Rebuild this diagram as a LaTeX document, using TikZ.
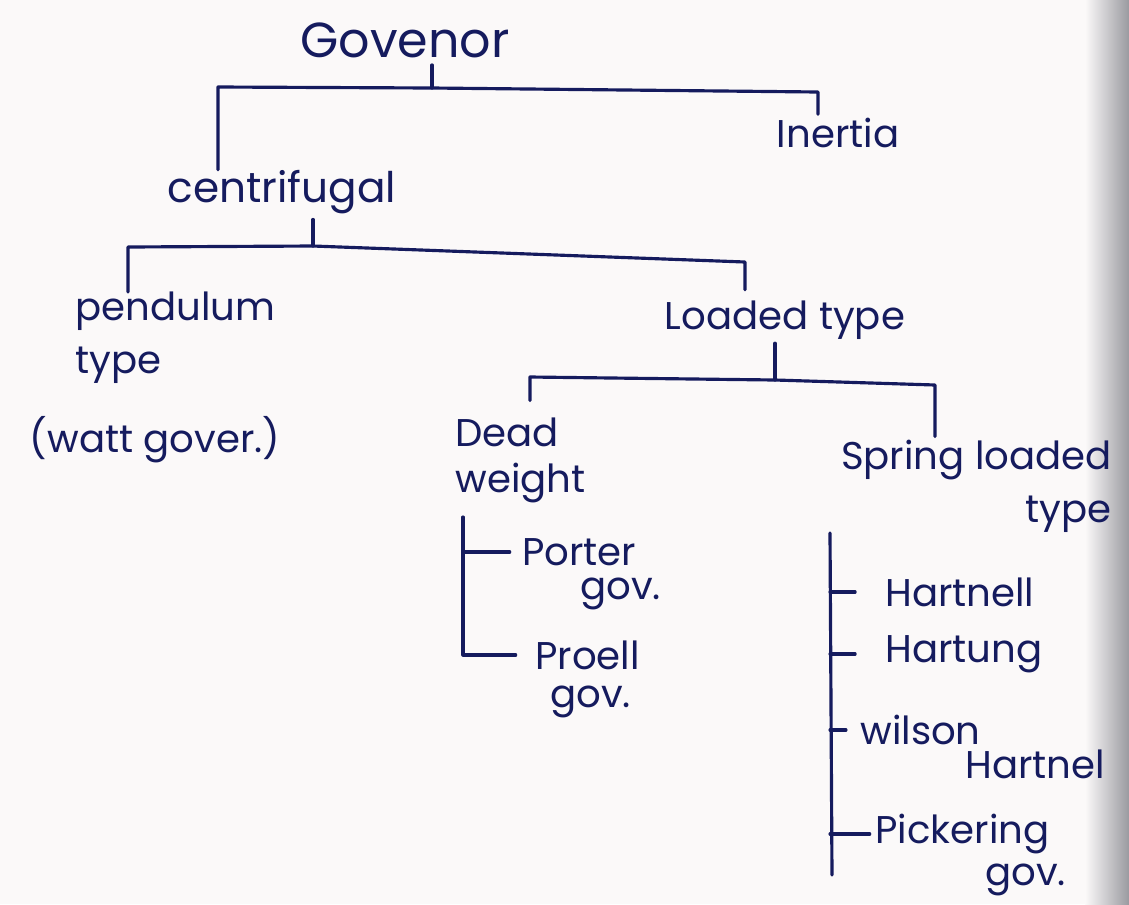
\documentclass[tikz,border=0pt]{standalone}
\usepackage{fontspec}
\setmainfont{Poppins}
\definecolor{ink}{HTML}{151B5E}
\definecolor{paper}{HTML}{FBF9F9}
\definecolor{edge}{HTML}{9A9AA0}
\begin{document}
\begin{tikzpicture}[x=0.02cm,y=-0.02cm,
  txt/.style={text=ink,font=\fontsize{22}{24}\selectfont,inner sep=0pt},
  big/.style={txt,font=\fontsize{28}{30}\selectfont},
  link/.style={draw=ink,line width=1.8pt,line cap=round,line join=round}]
\fill[paper] (0,0) rectangle (1129,904);
\shade[left color=paper,right color=edge] (1085,0) rectangle (1129,904);
\useasboundingbox (0,0) rectangle (1129,904);

% texts
\node[big] (gov) at (405,40) {Govenor};
\node[txt] (inertia) at (838,133) {Inertia};
\node[txt,font=\fontsize{24}{26}\selectfont] (cent) at (282,192) {centrifugal};
\node[txt,align=left,anchor=north west,font=\fontsize{22}{30}\selectfont] (pend) at (75,292) {pendulum\\type};
\node[txt] (watt) at (155,440) {(watt gover.)};
\node[txt] (loaded) at (785,320) {Loaded type};
\node[txt,align=left,anchor=north west,font=\fontsize{22}{26}\selectfont] (dead) at (455,418) {Dead\\weight};
\node[txt,align=right,anchor=north east,font=\fontsize{22}{30}\selectfont] (spring) at (1112,440) {Spring loaded\\type};

\node[txt,anchor=west] (porter) at (522,552) {Porter};
\node[txt,anchor=west] (porterg) at (580,594) {gov.};
\node[txt,anchor=west] (proell) at (535,655) {Proell};
\node[txt,anchor=west] (proellg) at (550,702) {gov.};

\node[txt,anchor=west] (hartnell) at (885,592) {Hartnell};
\node[txt,anchor=west] (hartung) at (885,654) {Hartung};
\node[txt,anchor=west] (wilson) at (860,730) {wilson};
\node[txt,anchor=west] (wilsonh) at (965,764) {Hartnel};
\node[txt,anchor=west] (pick) at (875,834) {Pickering};
\node[txt,anchor=west] (pickg) at (985,880) {gov.};

% junctions
\coordinate (j1) at (432,88);
\coordinate (b1L) at (218,87);
\coordinate (b1R) at (818,92);
\coordinate (j2) at (313,246);
\coordinate (b2L) at (128,247);
\coordinate (b2R) at (745,262);
\coordinate (j3) at (775,380);
\coordinate (b3L) at (530,377);
\coordinate (b3R) at (935,385);
\coordinate (ds1) at (463,517);
\coordinate (ss1) at (830,533);
\coordinate (ss2) at (832,875);

% connectors
\draw[link,shorten <=4pt] (gov.south -| j1) -- (j1);
\draw[link,shorten >=2pt] (cent.north -| b1L) -- (b1L) -- (j1) -- (b1R) -- (inertia.north -| b1R);
\draw[link,shorten <=3pt] (cent.south -| j2) -- (j2);
\draw[link,shorten >=6pt] (pend.north -| b2L) -- (b2L) -- (j2) -- (b2R) -- (loaded.north -| b2R);
\draw[link,shorten <=2pt] (loaded.south -| j3) -- (j3);
\draw[link,shorten <=10pt,shorten >=2pt] (dead.north -| b3L) -- (b3L) -- (j3) -- (b3R) -- (spring.north -| b3R);

% dead weight bracket
\draw[link,shorten >=11pt] (ds1) -- (ds1 |- proell.west) -- (proell.west);
\draw[link,shorten >=7pt] (ds1 |- porter.west) -- (porter.west);

% spring loaded bracket
\draw[link] (ss1) -- (ss2);
\draw[link,shorten >=17pt] (ss1 |- hartnell.west) -- (hartnell.west);
\draw[link,shorten >=17pt] (ss1 |- hartung.west) -- (hartung.west);
\draw[link,shorten >=8pt] (ss1 |- wilson.west) -- (wilson.west);
\draw[link,shorten >=3pt] (ss1 |- pick.west) -- (pick.west);
\end{tikzpicture}
\end{document}
